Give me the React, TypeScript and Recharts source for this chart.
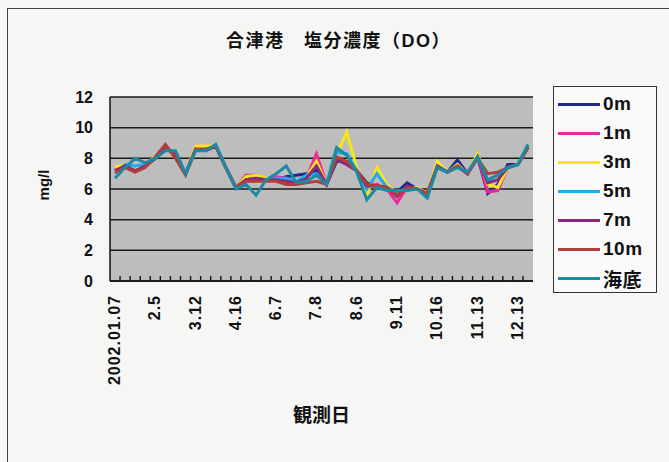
import React from 'react';
import { LineChart, Line, XAxis, YAxis, CartesianGrid } from 'recharts';

// sample index (weekly-ish observations through 2002)
const samples = Array.from({ length: 42 }, (_, i) => i);

// only every 4th date is labelled on the axis
const dateLabels = [
  '2002.01.07', '2.5', '3.12', '4.16', '6.7', '7.8',
  '8.6', '9.11', '10.16', '11.13', '12.13',
];

const depth0 = [
  7.2, 7.5, 7.3, 7.5, 8.0, 8.7, 8.2, 7.0, 8.6, 8.6, 8.8, 7.4, 6.1, 6.6,
  6.7, 6.6, 6.6, 6.8, 6.9, 7.0, 7.2, 6.3, 7.8, 7.8, 7.2, 6.4, 6.2, 6.1,
  5.8, 6.4, 6.0, 5.7, 7.5, 7.1, 7.9, 7.0, 8.1, 5.7, 6.3, 7.6, 7.6, 8.7,
];
const depth1 = [
  7.3, 7.5, 7.2, 7.5, 8.0, 8.7, 8.2, 7.0, 8.6, 8.6, 8.8, 7.4, 6.1, 6.9,
  6.9, 6.6, 6.8, 6.7, 6.4, 6.7, 8.3, 6.3, 8.0, 7.6, 7.2, 6.1, 6.3, 6.0,
  5.1, 6.1, 6.0, 5.7, 7.6, 7.1, 7.5, 7.0, 8.2, 5.8, 5.9, 7.4, 7.6, 8.7,
];
const depth3 = [
  7.4, 7.6, 7.3, 7.6, 8.1, 8.7, 8.3, 7.0, 8.8, 8.8, 8.8, 7.4, 6.1, 6.8,
  6.9, 6.7, 6.6, 6.5, 6.3, 6.8, 7.8, 6.3, 8.2, 9.7, 7.4, 5.6, 7.4, 6.3,
  5.7, 6.1, 6.1, 5.7, 7.8, 7.1, 7.6, 7.0, 8.3, 6.3, 6.1, 7.4, 7.6, 8.7,
];
const depth5 = [
  7.0, 7.6, 7.5, 7.6, 8.0, 8.6, 8.4, 7.0, 8.6, 8.5, 8.8, 7.4, 6.1, 6.6,
  6.7, 6.6, 6.7, 6.7, 6.5, 6.9, 7.0, 6.3, 8.4, 8.3, 7.2, 6.0, 7.0, 6.1,
  5.8, 6.0, 6.0, 5.6, 7.5, 7.1, 7.5, 7.0, 8.1, 6.5, 7.0, 7.4, 7.6, 8.8,
];
const depth7 = [
  7.2, 7.5, 7.2, 7.5, 8.0, 8.8, 8.2, 7.0, 8.6, 8.5, 8.8, 7.4, 6.1, 6.6,
  6.7, 6.6, 6.6, 6.5, 6.4, 6.7, 7.5, 6.3, 7.9, 7.6, 7.2, 6.2, 6.2, 6.1,
  5.5, 6.2, 6.0, 5.7, 7.5, 7.1, 7.5, 7.0, 8.1, 6.4, 6.6, 7.4, 7.6, 8.7,
];
const depth10 = [
  7.1, 7.4, 7.1, 7.4, 8.1, 8.9, 8.0, 6.9, 8.6, 8.6, 8.8, 7.4, 6.1, 6.5,
  6.5, 6.5, 6.5, 6.3, 6.3, 6.4, 6.5, 6.3, 8.1, 7.8, 7.2, 6.3, 6.2, 6.1,
  5.6, 6.1, 6.0, 5.7, 7.4, 7.1, 7.5, 7.0, 8.0, 7.0, 7.1, 7.4, 7.6, 8.7,
];
const seabed = [
  6.7, 7.4, 8.0, 7.7, 8.0, 8.5, 8.5, 7.0, 8.5, 8.5, 8.9, 7.4, 6.0, 6.3,
  5.6, 6.6, 7.0, 7.5, 6.4, 6.5, 6.9, 6.3, 8.7, 8.2, 7.1, 5.3, 6.1, 5.9,
  5.9, 5.9, 6.0, 5.4, 7.4, 7.1, 7.4, 7.1, 8.1, 6.6, 6.9, 7.4, 7.6, 8.9,
];

const series = [
  { key: 'd0', name: '0m', color: '#1c2a8c', values: depth0 },
  { key: 'd1', name: '1m', color: '#f0279b', values: depth1 },
  { key: 'd3', name: '3m', color: '#f7e61a', values: depth3 },
  { key: 'd5', name: '5m', color: '#20a8f0', values: depth5 },
  { key: 'd7', name: '7m', color: '#8a2a78', values: depth7 },
  { key: 'd10', name: '10m', color: '#b23e3a', values: depth10 },
  { key: 'sb', name: '海底', color: '#1b8aa2', values: seabed },
];

const yTicks = [0, 2, 4, 6, 8, 10, 12];

const chartData = samples.map((i) => {
  const row: Record<string, number> = { idx: i };
  series.forEach((s) => {
    row[s.key] = s.values[i];
  });
  return row;
});

const TICK_MARGIN = 14;
const FONT = '"Liberation Sans", Arial, "Noto Sans CJK JP", sans-serif';

// plot rectangle inside the 669x462 chart
const PLOT = { left: 110, top: 97, right: 136, bottom: 181 };
const STEP = (669 - PLOT.left - PLOT.right) / samples.length;

// every sample gets a tick; the mark sits between samples, every 4th gets a date
const XTick = ({ x, y, payload }: any) => {
  const v = payload.value;
  const axisY = y - TICK_MARGIN;
  const markX = x + STEP / 2;
  return (
    <g>
      {v < samples.length - 1 && (
        <line x1={markX} x2={markX} y1={axisY} y2={axisY - 5} stroke="#111" strokeWidth={1.4} />
      )}
      {v % 4 === 0 && (
        <text
          x={x}
          y={y}
          dy={5}
          transform={`rotate(-90 ${x} ${y})`}
          textAnchor="end"
          fontFamily={FONT}
          fontWeight="bold"
          fontSize={16}
          letterSpacing={1}
          fill="#111"
        >
          {dateLabels[v / 4]}
        </text>
      )}
    </g>
  );
};

export default function App() {
  return (
    <div
      style={{
        position: 'absolute',
        left: 0,
        top: 0,
        width: 669,
        height: 462,
        overflow: 'hidden',
        background: '#f6f6f4',
        fontFamily: FONT,
      }}
    >
      <div
        style={{
          position: 'absolute',
          left: 7,
          top: 8,
          width: 700,
          height: 500,
          border: '1.5px solid #444',
        }}
      />
      <div
        style={{
          position: 'absolute',
          left: 0,
          width: 669,
          top: 26,
          textAlign: 'center',
          fontWeight: 'bold',
          fontSize: 18,
          letterSpacing: 1.5,
          color: '#111',
          paddingLeft: 4,
        }}
      >
        合津港　塩分濃度（DO）
      </div>

      <LineChart
        width={669}
        height={462}
        data={chartData}
        margin={{ top: PLOT.top, right: PLOT.right, left: 0, bottom: 0 }}
        style={{ position: 'absolute', left: 0, top: 0 }}
      >
        <CartesianGrid
          vertical={false}
          fill="#bdbdbd"
          fillOpacity={1}
          stroke="#1a1a1a"
          strokeWidth={1.5}
        />
        <XAxis
          dataKey="idx"
          type="number"
          domain={[-0.5, samples.length - 0.5]}
          ticks={samples}
          tick={<XTick />}
          tickLine={false}
          tickSize={0}
          tickMargin={TICK_MARGIN}
          axisLine={{ stroke: '#111', strokeWidth: 1.5 }}
          height={PLOT.bottom}
          interval={0}
        />
        <YAxis
          domain={[0, 12]}
          ticks={yTicks}
          width={PLOT.left}
          tickLine={false}
          tickSize={0}
          tickMargin={17}
          axisLine={{ stroke: '#111', strokeWidth: 1.5 }}
          tick={{ fill: '#111', fontSize: 16, fontWeight: 'bold', fontFamily: FONT }}
        />
        <YAxis
          yAxisId="right"
          orientation="right"
          domain={[0, 12]}
          width={0}
          tick={false}
          tickLine={false}
          axisLine={{ stroke: '#555', strokeWidth: 1.5 }}
        />
        {series.map((s) => (
          <Line
            key={s.key}
            dataKey={s.key}
            name={s.name}
            stroke={s.color}
            strokeWidth={3}
            dot={false}
            isAnimationActive={false}
          />
        ))}
      </LineChart>

      <div
        style={{
          position: 'absolute',
          left: 43,
          top: 185,
          transform: 'translate(-50%, -50%) rotate(-90deg)',
          fontWeight: 'bold',
          fontSize: 15,
          color: '#111',
        }}
      >
        mg/l
      </div>
      <div
        style={{
          position: 'absolute',
          left: 293,
          top: 400,
          fontWeight: 'bold',
          fontSize: 19,
          color: '#111',
        }}
      >
        観測日
      </div>

      <div
        style={{
          position: 'absolute',
          left: 553,
          top: 86,
          width: 104,
          height: 207,
          boxSizing: 'border-box',
          border: '1.5px solid #333',
          background: '#fafafa',
        }}
      >
        {series.map((s, n) => (
          <div
            key={s.key}
            style={{
              position: 'absolute',
              left: 4,
              top: 6 + n * 29,
              height: 22,
              display: 'flex',
              alignItems: 'center',
            }}
          >
            <span
              style={{
                display: 'inline-block',
                width: 42,
                height: 3,
                background: s.color,
                marginRight: 3,
              }}
            />
            <span
              style={{
                fontWeight: 'bold',
                fontSize: 19,
                letterSpacing: 0.5,
                color: '#111',
              }}
            >
              {s.name}
            </span>
          </div>
        ))}
      </div>
    </div>
  );
}
